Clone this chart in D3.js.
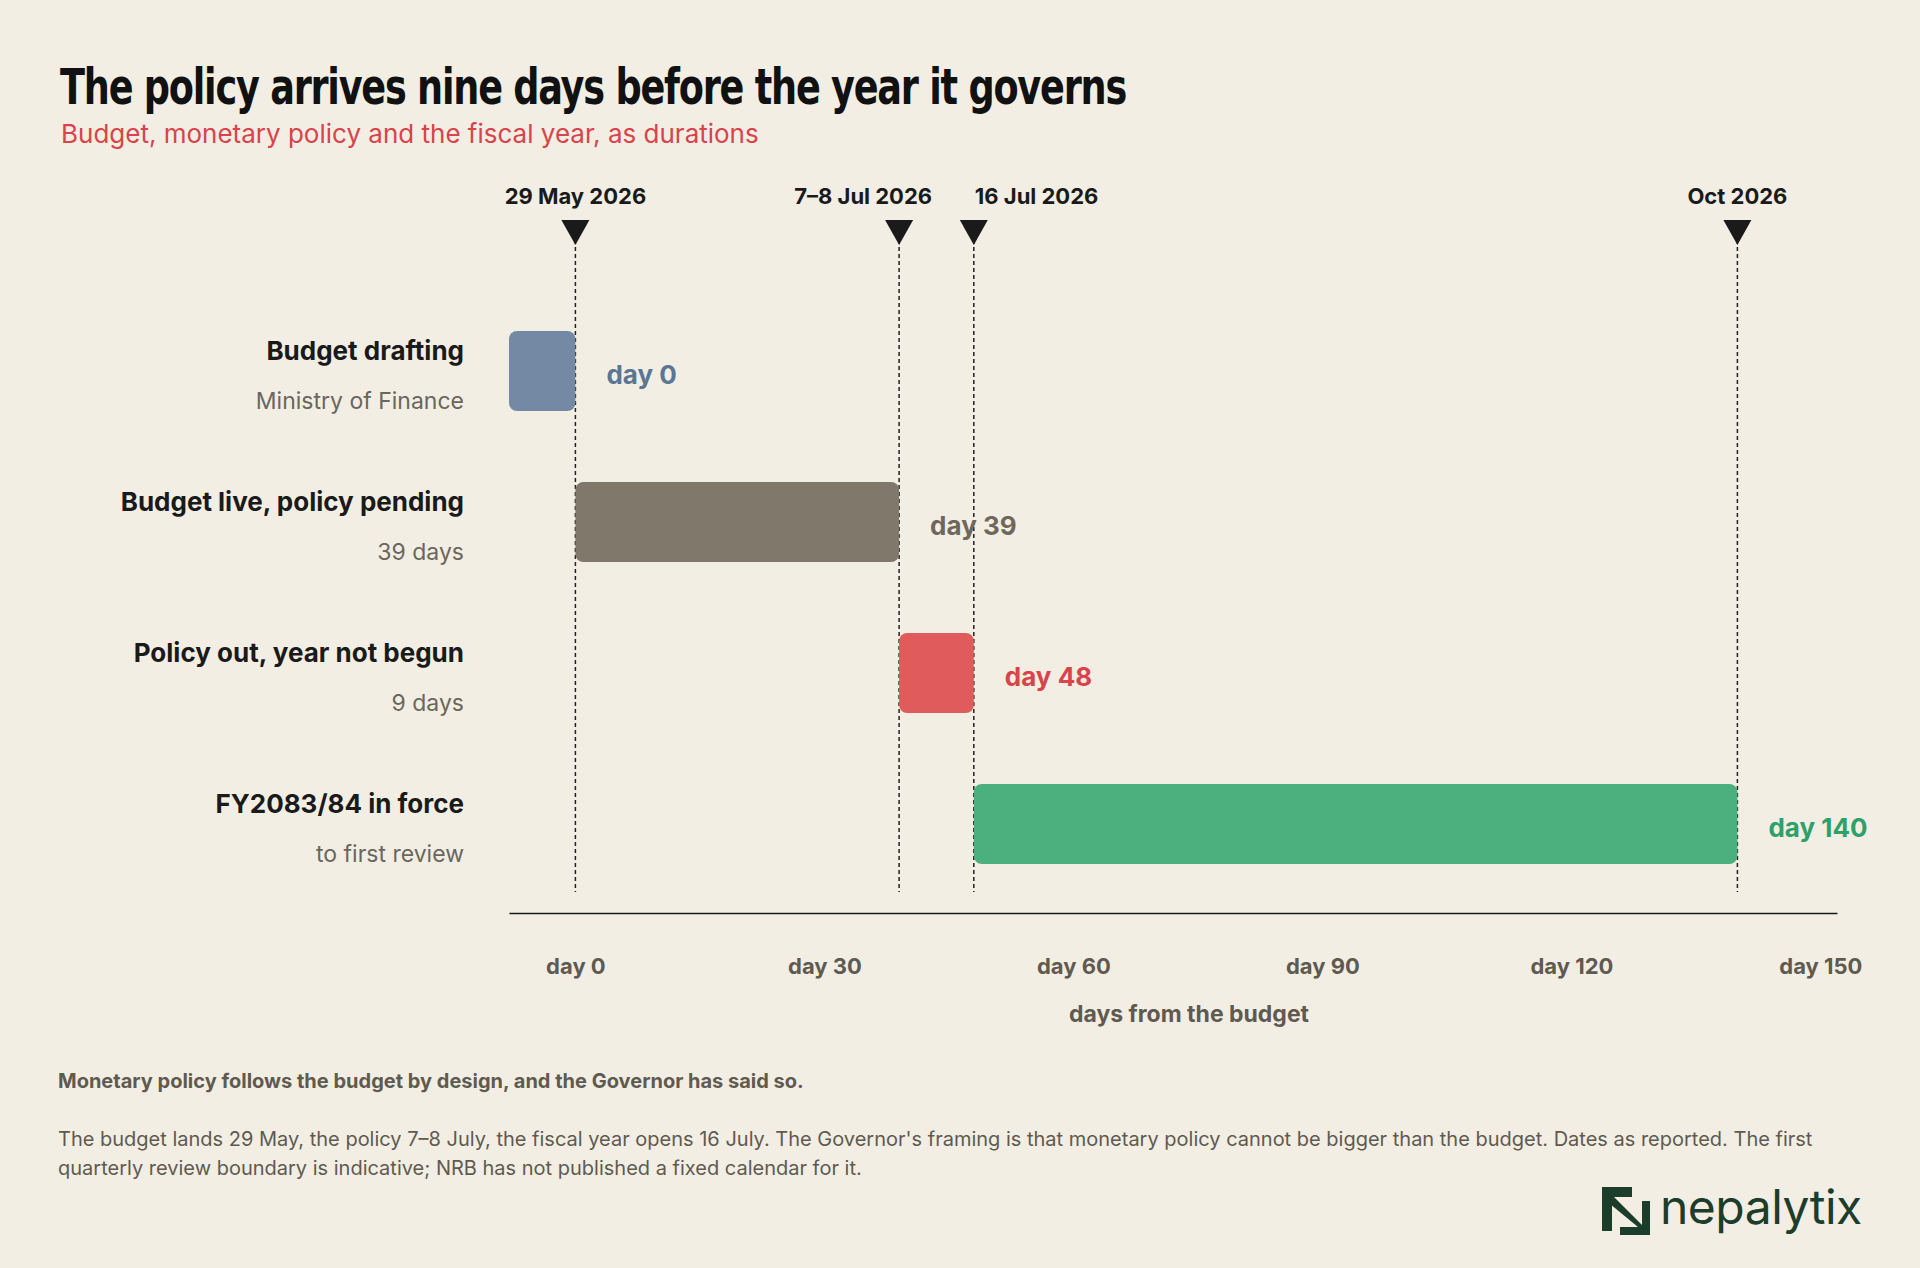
<!DOCTYPE html>
<html><head><meta charset="utf-8">
<script src="https://cdn.jsdelivr.net/npm/d3@7"></script>
<style>body{margin:0;background:#f2eee4}svg{display:block}</style>
</head><body>
<script>
const rows = ["Budget drafting","Budget live, policy pending","Policy out, year not begun","FY2083/84 in force"];
const subs = ["Ministry of Finance","39 days","9 days","to first review"];
const starts = [-8,0,39,48];
const ends = [0,39,48,140];
const endLabels = ["day 0","day 39","day 48","day 140"];
const colors = ["#7489a3","#7f786b","#e05c5c","#4caf7e"];
const labelColors = ["#5b7695","#6e685c","#d9434b","#2f9f6b"];
const markerDays = [0,39,48,140];
const markerLabels = ["29 May 2026","7–8 Jul 2026","16 Jul 2026","Oct 2026"];
const markerAnchors = ["middle","end","start","middle"];
const ticks = [0,30,60,90,120,150];

const W=1920,H=1268;
const svg=d3.select("body").append("svg").attr("width",W).attr("height",H);
svg.append("rect").attr("width",W).attr("height",H).attr("fill","#f2eee4");
const F="Inter, 'Noto Sans', sans-serif";
svg.append("text").attr("x",60).attr("y",104).text("The policy arrives nine days before the year it governs")
 .attr("font-family","'DejaVu Sans Condensed','Liberation Sans Narrow',sans-serif").attr("font-weight",700)
 .attr("font-size",50).attr("fill","#111").attr("letter-spacing",-1.5).attr("textLength",1066).attr("lengthAdjust","spacingAndGlyphs");
svg.append("text").attr("x",61).attr("y",143).text("Budget, monetary policy and the fiscal year, as durations")
 .attr("font-family",F).attr("font-size",26).attr("fill","#d9434b");

const x=d3.scaleLinear().domain([-8,152]).range([509,1837]);
const y=d3.scaleBand().domain(rows).range([331,864]).paddingInner(0.47).paddingOuter(0);
markerDays.forEach((d,i)=>{
  const xx=x(d);
  svg.append("line").attr("x1",xx).attr("x2",xx).attr("y1",240).attr("y2",892).attr("stroke","#222").attr("stroke-width",1.5).attr("stroke-dasharray","4,3");
  svg.append("path").attr("d",`M${xx-14},220 L${xx+14},220 L${xx},245 Z`).attr("fill","#1a1a1a");
  const dx = markerAnchors[i]==="end"?33:(markerAnchors[i]==="start"?1:0);
  svg.append("text").attr("x",xx+dx).attr("y",204).attr("text-anchor",markerAnchors[i]).text(markerLabels[i])
   .attr("font-family",F).attr("font-weight",700).attr("font-size",22).attr("fill","#1a1a1a");
});
rows.forEach((r,i)=>{
  const y0=y(r),bh=y.bandwidth(),cy=y0+bh/2;
  svg.append("rect").attr("x",x(starts[i])).attr("y",y0).attr("width",x(ends[i])-x(starts[i])).attr("height",bh).attr("rx",8).attr("fill",colors[i]);
  svg.append("text").attr("x",x(ends[i])+31).attr("y",cy+13).text(endLabels[i]).attr("font-family",F).attr("font-weight",700).attr("font-size",26).attr("fill",labelColors[i]);
  svg.append("text").attr("x",464).attr("y",y0+29).attr("text-anchor","end").text(r).attr("font-family",F).attr("font-weight",700).attr("font-size",26).attr("fill","#1a1a1a");
  svg.append("text").attr("x",464).attr("y",y0+78).attr("text-anchor","end").text(subs[i]).attr("font-family",F).attr("font-size",23).attr("fill","#6b665c");
});
const ax=svg.append("g").attr("transform","translate(0,913)").call(d3.axisBottom(x).tickValues(ticks).tickSize(0).tickPadding(45).tickFormat(d=>"day "+d));
ax.select(".domain").attr("stroke","#1a1a1a").attr("stroke-width",1.5);
ax.selectAll("text").attr("font-family",F).attr("font-weight",700).attr("font-size",22).attr("fill","#5f5a50");
svg.append("text").attr("x",1189).attr("y",1022).attr("text-anchor","middle").text("days from the budget").attr("font-family",F).attr("font-weight",700).attr("font-size",23).attr("fill","#5f5a50");

svg.append("text").attr("x",58).attr("y",1088).text("Monetary policy follows the budget by design, and the Governor has said so.").attr("font-family",F).attr("font-weight",700).attr("font-size",20).attr("fill","#5f5a50");
["The budget lands 29 May, the policy 7–8 July, the fiscal year opens 16 July. The Governor's framing is that monetary policy cannot be bigger than the budget. Dates as reported. The first",
 "quarterly review boundary is indicative; NRB has not published a fixed calendar for it."].forEach((t,i)=>
 svg.append("text").attr("x",58).attr("y",1146+i*29).text(t).attr("font-family",F).attr("font-size",20).attr("fill","#5f5a50"));
const lg=svg.append("g").attr("transform","translate(1602,1187)");
lg.append("path").attr("d","M0,0 H30 V10 H10 V44 H0 Z").attr("fill","#1d3d2b");
lg.append("path").attr("d","M8,6 L40,38 V14 H48 V48 H18 V40 H36 L2,12 Z").attr("fill","#1d3d2b");
svg.append("text").attr("x",1660).attr("y",1224).text("nepalytix").attr("font-family",F).attr("font-size",48).attr("fill","#1d3d2b").attr("letter-spacing",-0.5);
</script>
</body></html>
